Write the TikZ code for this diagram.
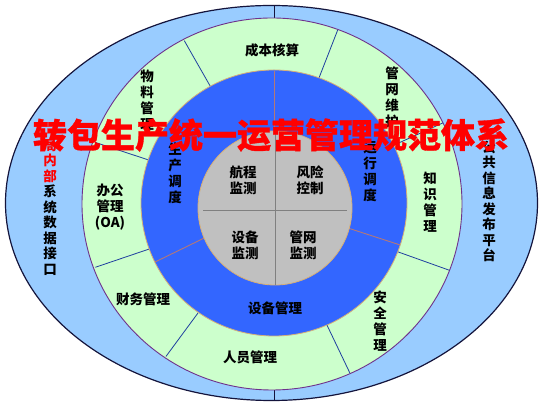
\documentclass[tikz,border=0pt]{standalone}
\usepackage{fontspec}
\newfontfamily\cjk{Noto Sans CJK SC}
\newfontfamily\cjktitle{Noto Sans CJK SC}[FakeBold=1]
\definecolor{outerblue}{RGB}{153,204,255}
\definecolor{lightgreen}{RGB}{204,255,204}
\definecolor{midblue}{RGB}{51,102,255}
\definecolor{greyfill}{RGB}{192,192,192}
\definecolor{navyline}{RGB}{20,20,60}
\definecolor{purpleline}{RGB}{110,50,140}
\definecolor{tanline}{RGB}{215,175,120}
\definecolor{divblue}{RGB}{31,63,159}
\definecolor{divtan}{RGB}{180,120,120}
\definecolor{titlered}{RGB}{255,0,0}
\begin{document}
\begin{tikzpicture}[x=1pt,y=1pt,
  lbl/.style={font=\cjk\bfseries\fontsize{13.5}{16}\selectfont, align=center, inner sep=0pt, text=black},
  sidelbl/.style={font=\cjk\bfseries\fontsize{13.5}{15.5}\selectfont, align=center, inner sep=0pt, text=black},
  titlelbl/.style={font=\cjktitle\bfseries\fontsize{34}{34}\selectfont, inner sep=0pt, text=titlered},
  gdiv/.style={draw=divblue, line width=0.8pt},
  bdiv/.style={draw=divtan, line width=0.9pt}]
\useasboundingbox (0,0) rectangle (541,406);
\fill[white] (0,0) rectangle (541,406);
% outer band
\filldraw[fill=outerblue, draw=navyline, line width=1.2pt] (271.5,203) ellipse [x radius=266, y radius=197.5];
\draw[navyline, line width=0.8pt] (274,388) -- (274,400.5);
\draw[navyline, line width=0.8pt] (274,16) -- (274,5.5);
% green band
\filldraw[fill=lightgreen, draw=purpleline, line width=0.9pt] (272,202) ellipse [x radius=190, y radius=186];
\begin{scope}[shift={(273,202)}]
\foreach \a in {118,70,26,-21,-66,-124.5,200,160.5}
  \draw[gdiv] (\a:130) -- (\a:189 and 185);
\end{scope}
% blue band
\filldraw[fill=midblue, draw=tanline, line width=0.8pt] (274,203) circle (133);
\begin{scope}[shift={(274,202)}]
\foreach \a in {90,206,-18}
  \draw[bdiv] (\a:60) -- (\a:132.5);
\end{scope}
% grey core
\filldraw[fill=greyfill, draw=tanline, line width=0.8pt] (275,198) circle (77);
\draw[draw=gray, line width=1pt] (203,195) -- (347,195);
\draw[draw=gray, line width=1pt] (275,121.2) -- (275,274.8);
% core labels
\node[lbl] (hc) at (243,226) {航程\\监测};
\node[lbl] (fx) at (310,226) {风险\\控制};
\node[lbl] (sb) at (245,161) {设备\\监测};
\node[lbl] (gw) at (303,161) {管网\\监测};
% blue band labels
\node[lbl] (sc) at (175,233) {生\\产\\调\\度};
\node[lbl] (yx) at (370,234.5) {运\\行\\调\\度};
\node[lbl] (sbgl) at (275,98) {设备管理};
% green band labels
\node[lbl] (cb) at (272,356) {成本核算};
\node[lbl] (wl) at (147,305.5) {物\\料\\管\\理};
\node[lbl] (gwwh) at (392,308.5) {管\\网\\维\\护};
\node[lbl] (zs) at (430,204) {知\\识\\管\\理};
\node[lbl] (aq) at (380,85) {安\\全\\管\\理};
\node[lbl] (ry) at (250,49) {人员管理};
\node[lbl] (cw) at (143,107) {财务管理};
\node[lbl] (bg) at (110,198.5) {办公\\管理\\(OA)};
% outer band labels
\node[sidelbl] (jn) at (50,198.5) {\textcolor{titlered}{局}\\\textcolor{titlered}{内}\\\textcolor{titlered}{部}\\系\\统\\数\\据\\接\\口};
\node[sidelbl] (gg) at (489,204.5) {公\\共\\信\\息\\发\\布\\平\\台};
% title
\node[titlelbl] (title) at (271,271) {转包生产统一运营管理规范体系};
\end{tikzpicture}
\end{document}
